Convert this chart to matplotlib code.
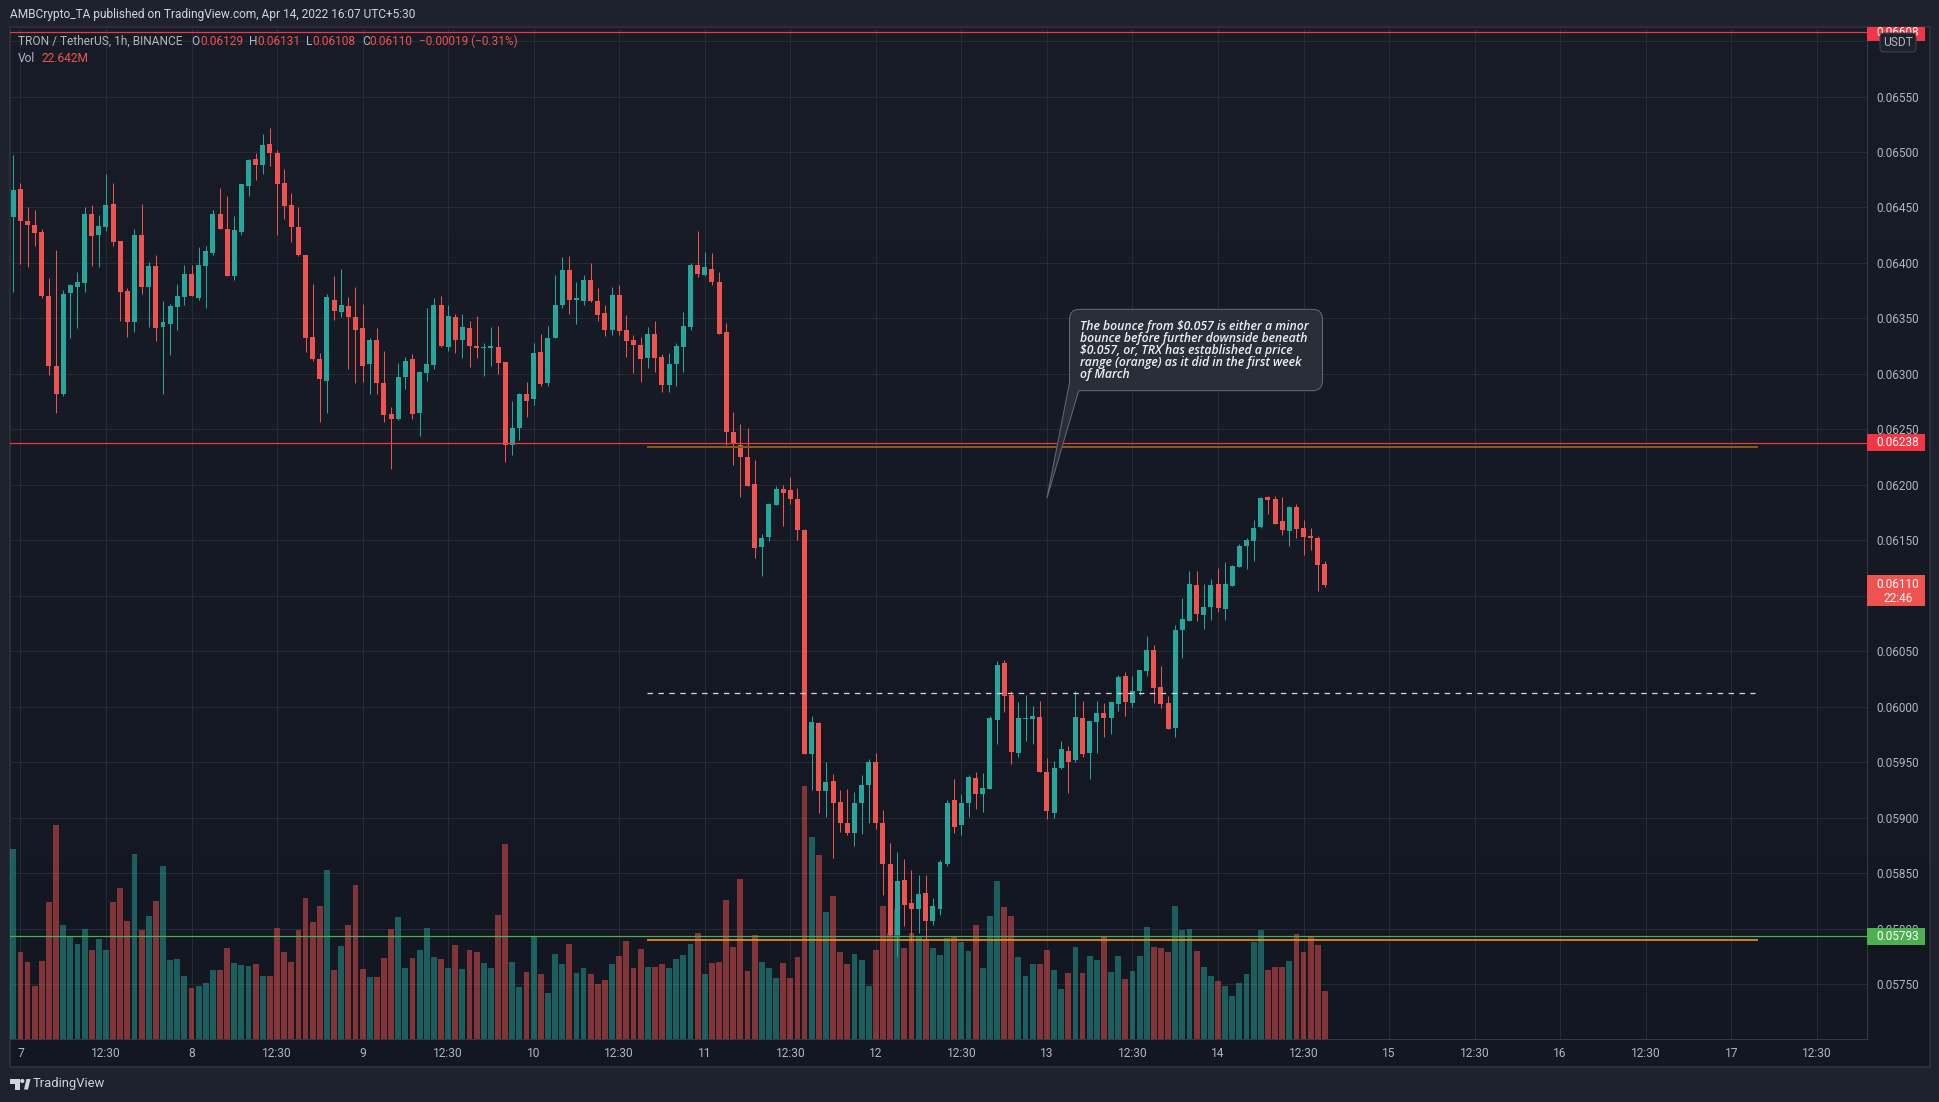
import numpy as np
import matplotlib
matplotlib.use("Agg")
import matplotlib.pyplot as plt
from matplotlib.patches import PathPatch, Rectangle, FancyBboxPatch, Polygon
from matplotlib.path import Path
from matplotlib.transforms import IdentityTransform

# prices in 1e-5 USDT, hourly bars from Apr 7
opens = [
    6441, 6467, 6438, 6434, 6428, 6370, 6307, 6282, 6373, 6378,
    6382, 6444, 6425, 6432, 6453, 6420, 6375, 6347, 6425, 6378,
    6397, 6342, 6345, 6360, 6369, 6390, 6368, 6397, 6409, 6444,
    6431, 6388, 6428, 6469, 6494, 6488, 6507, 6499, 6472, 6452,
    6432, 6407, 6333, 6313, 6294, 6367, 6356, 6361, 6351, 6341,
    6309, 6331, 6292, 6264, 6259, 6297, 6313, 6265, 6301, 6308,
    6362, 6324, 6351, 6331, 6341, 6325, 6323, 6323, 6324, 6311,
    6236, 6251, 6282, 6277, 6320, 6292, 6332, 6362, 6394, 6367,
    6366, 6385, 6366, 6355, 6340, 6371, 6340, 6331, 6326, 6314,
    6336, 6315, 6290, 6309, 6324, 6342, 6398, 6389, 6395, 6383,
    6338, 6248, 6236, 6225, 6201, 6144, 6153, 6182, 6196, 6195,
    6187, 6159, 5957, 5985, 5924, 5933, 5914, 5895, 5886, 5913,
    5929, 5950, 5895, 5858, 5794, 5844, 5823, 5818, 5832, 5807,
    5818, 5858, 5916, 5893, 5913, 5936, 5921, 5926, 5988, 6039,
    6011, 5958, 5989, 5989, 5991, 5941, 5904, 5945, 5960, 5952,
    5990, 5958, 5986, 5994, 5990, 6002, 6028, 6003, 6014, 6032,
    6051, 6018, 6003, 5981, 6069, 6077, 6110, 6083, 6090, 6111,
    6088, 6109, 6126, 6145, 6149, 6162, 6189, 6187, 6167, 6158,
    6180, 6161, 6154, 6152, 6129,
]
closes = [
    6466, 6438, 6434, 6427, 6370, 6307, 6282, 6372, 6380, 6383,
    6444, 6424, 6433, 6452, 6419, 6374, 6347, 6425, 6378, 6397,
    6341, 6347, 6361, 6370, 6390, 6370, 6398, 6411, 6444, 6431,
    6388, 6430, 6471, 6493, 6488, 6506, 6499, 6471, 6451, 6432,
    6407, 6332, 6313, 6295, 6369, 6357, 6362, 6351, 6340, 6307,
    6331, 6292, 6263, 6259, 6297, 6312, 6264, 6302, 6309, 6362,
    6325, 6352, 6331, 6342, 6325, 6323, 6324, 6325, 6310, 6236,
    6251, 6282, 6276, 6319, 6291, 6332, 6362, 6394, 6367, 6368,
    6385, 6366, 6353, 6340, 6371, 6339, 6330, 6326, 6313, 6336,
    6314, 6290, 6309, 6325, 6343, 6398, 6390, 6396, 6383, 6336,
    6248, 6237, 6225, 6199, 6143, 6152, 6183, 6196, 6193, 6187,
    6159, 5957, 5986, 5924, 5932, 5913, 5895, 5886, 5913, 5929,
    5950, 5895, 5858, 5794, 5843, 5821, 5818, 5831, 5807, 5820,
    5860, 5913, 5892, 5913, 5937, 5921, 5927, 5990, 6038, 6010,
    5959, 5990, 5990, 5992, 5941, 5906, 5945, 5962, 5950, 5991,
    5957, 5987, 5994, 5990, 6004, 6027, 6004, 6014, 6033, 6051,
    6017, 6002, 5980, 6069, 6079, 6111, 6084, 6090, 6110, 6089,
    6111, 6127, 6145, 6150, 6161, 6188, 6186, 6165, 6159, 6180,
    6160, 6153, 6152, 6128, 6110,
]
highs = [
    6497, 6472, 6450, 6448, 6431, 6386, 6412, 6376, 6381, 6392,
    6450, 6452, 6443, 6480, 6472, 6420, 6377, 6431, 6453, 6401,
    6407, 6366, 6363, 6381, 6398, 6398, 6414, 6415, 6448, 6468,
    6460, 6442, 6471, 6494, 6499, 6516, 6522, 6502, 6485, 6463,
    6450, 6407, 6381, 6319, 6372, 6388, 6395, 6369, 6378, 6363,
    6332, 6341, 6321, 6270, 6310, 6315, 6318, 6303, 6359, 6368,
    6370, 6362, 6354, 6354, 6348, 6352, 6328, 6342, 6343, 6311,
    6276, 6283, 6293, 6328, 6336, 6343, 6389, 6405, 6406, 6383,
    6389, 6400, 6377, 6362, 6378, 6380, 6353, 6335, 6333, 6342,
    6348, 6318, 6319, 6328, 6356, 6400, 6429, 6410, 6409, 6392,
    6346, 6266, 6255, 6251, 6222, 6156, 6184, 6199, 6200, 6207,
    6197, 6160, 5992, 5986, 5950, 5939, 5925, 5926, 5923, 5938,
    5953, 5958, 5907, 5877, 5869, 5863, 5853, 5848, 5848, 5828,
    5862, 5916, 5935, 5921, 5938, 5941, 5940, 5992, 6041, 6042,
    6014, 6004, 6011, 6001, 6005, 5954, 5951, 5969, 5965, 6014,
    6005, 5987, 6005, 6003, 6004, 6029, 6031, 6028, 6033, 6064,
    6056, 6037, 6010, 6074, 6098, 6122, 6122, 6111, 6115, 6125,
    6130, 6128, 6147, 6152, 6168, 6189, 6190, 6190, 6189, 6181,
    6183, 6168, 6161, 6154, 6131,
]
lows = [
    6374, 6399, 6396, 6415, 6368, 6299, 6265, 6280, 6332, 6341,
    6374, 6397, 6396, 6429, 6415, 6348, 6333, 6338, 6372, 6342,
    6330, 6282, 6317, 6340, 6362, 6370, 6367, 6359, 6407, 6431,
    6388, 6385, 6425, 6460, 6475, 6480, 6487, 6425, 6440, 6419,
    6406, 6320, 6312, 6257, 6265, 6349, 6351, 6304, 6292, 6293,
    6282, 6282, 6257, 6214, 6258, 6286, 6259, 6244, 6294, 6304,
    6324, 6321, 6319, 6314, 6306, 6314, 6298, 6307, 6300, 6221,
    6227, 6240, 6261, 6272, 6289, 6289, 6332, 6359, 6354, 6345,
    6362, 6365, 6348, 6334, 6335, 6335, 6315, 6301, 6293, 6305,
    6302, 6284, 6284, 6289, 6302, 6340, 6387, 6388, 6380, 6336,
    6236, 6218, 6189, 6199, 6134, 6118, 6149, 6182, 6163, 6183,
    6150, 5957, 5925, 5904, 5901, 5864, 5887, 5884, 5874, 5885,
    5895, 5890, 5830, 5793, 5774, 5802, 5789, 5796, 5790, 5803,
    5812, 5856, 5886, 5884, 5901, 5908, 5905, 5926, 5966, 5995,
    5948, 5955, 5969, 5966, 5941, 5899, 5900, 5944, 5922, 5950,
    5955, 5935, 5958, 5973, 5975, 5996, 5992, 6000, 6011, 6028,
    6003, 5999, 5980, 5973, 6044, 6077, 6077, 6070, 6078, 6085,
    6078, 6109, 6126, 6124, 6131, 6161, 6174, 6165, 6155, 6145,
    6152, 6137, 6141, 6104, 6108,
]
# volume in millions
volumes = [
    89.5, 41.0, 36.3, 25.0, 36.7, 64.5, 100.8, 53.7, 48.0, 44.7,
    51.8, 41.9, 47.1, 41.9, 64.5, 71.1, 55.6, 87.1, 51.3, 57.9,
    65.0, 81.5, 37.2, 37.7, 29.7, 24.0, 25.0, 26.4, 32.5, 32.5,
    42.9, 35.8, 34.9, 34.4, 35.3, 29.7, 29.7, 52.3, 41.0, 36.3,
    51.3, 66.4, 55.1, 62.6, 79.6, 32.5, 43.8, 53.7, 72.5, 33.0,
    29.2, 29.2, 38.2, 51.8, 57.5, 33.4, 38.2, 41.9, 52.3, 38.6,
    37.7, 33.4, 44.3, 33.0, 41.9, 41.0, 35.8, 33.4, 58.4, 91.8,
    36.3, 24.5, 31.6, 48.0, 30.6, 21.7, 40.0, 35.3, 44.7, 31.1,
    33.4, 30.6, 25.9, 27.8, 35.3, 39.1, 46.2, 33.4, 42.4, 33.9,
    33.9, 35.3, 33.4, 37.7, 39.6, 44.7, 49.9, 30.6, 35.8, 36.3,
    65.5, 43.3, 75.4, 32.0, 49.0, 36.3, 33.4, 28.7, 35.8, 28.7,
    38.6, 119.2, 95.1, 86.7, 59.8, 67.4, 41.0, 35.3, 40.0, 37.2,
    25.0, 41.9, 62.6, 49.9, 61.2, 42.9, 49.9, 48.5, 46.6, 42.9,
    39.6, 47.6, 48.5, 45.7, 41.4, 53.7, 33.4, 57.9, 74.4, 62.2,
    57.9, 38.6, 29.7, 35.3, 35.3, 41.9, 32.5, 23.6, 31.1, 43.3,
    31.1, 39.1, 37.2, 48.5, 31.6, 39.1, 28.3, 32.0, 39.1, 52.8,
    43.3, 42.9, 41.0, 62.6, 51.3, 51.8, 41.4, 33.9, 29.7, 27.3,
    25.0, 20.3, 26.4, 30.6, 45.7, 51.3, 32.5, 33.9, 33.9, 36.7,
    49.5, 41.0, 48.5, 44.3, 22.642,
]

time_labels = ["7", "12:30", "8", "12:30", "9", "12:30", "10", "12:30", "11", "12:30", "12",
               "12:30", "13", "12:30", "14", "12:30", "15", "12:30", "16", "12:30", "17", "12:30"]
price_ticks = [0.0575, 0.058, 0.0585, 0.059, 0.0595, 0.06, 0.0605, 0.061, 0.0615, 0.062, 0.0625,
               0.063, 0.0635, 0.064, 0.0645, 0.065, 0.0655, 0.066]
# these two sit fully under a price tag in the chart
hidden_ticks = [0.061, 0.066]

res_top = 0.06608
res_mid = 0.06238
sup_low = 0.05793
range_high = 0.06234
range_mid = 0.06012
range_low = 0.05790

note = ("The bounce from $0.057 is either a minor\n"
        "bounce before further downside beneath\n"
        "$0.057, or, TRX has established a price\n"
        "range (orange) as it did in the first week\n"
        "of March")

UP = "#26a69a"
DOWN = "#ef5350"
RED_LINE = "#f23645"
GREEN_LINE = "#4caf50"
ORANGE = "#ff9800"
GRID = "#262a35"
FRAME = "#1e222d"
TEXT = "#b2b5be"
UI_FONT = ["Roboto", "DejaVu Sans"]

W, H = 1940, 1102
LEFT, RIGHT, TOP, BOTTOM = 10, 1866.7, 27, 1039.3

plt.rcParams["font.family"] = UI_FONT

fig = plt.figure(figsize=(W / 100, H / 100), dpi=100, facecolor=FRAME)


def px(v):
    # pixels to points, dpi is 100
    return v * 0.72


# gradient pane behind everything
bg = fig.add_axes([LEFT / W, 1 - 1066.7 / H, (1930 - LEFT) / W, (1066.7 - TOP) / H], zorder=-1)
top_col = np.array([24, 28, 39]) / 255
bot_col = np.array([19, 23, 34]) / 255
grad = np.linspace(0, 1, 256)[:, None, None] * (bot_col - top_col)[None, None, :] + top_col
bg.imshow(grad, aspect="auto")
bg.set_xticks([])
bg.set_yticks([])
for s in bg.spines.values():
    s.set_color("#2a2e39")
    s.set_linewidth(px(2))

ax = fig.add_axes([LEFT / W, 1 - BOTTOM / H, (RIGHT - LEFT) / W, (BOTTOM - TOP) / H])
ax.patch.set_visible(False)
ymin, ymax = 0.057002, 0.066127
ax.set_xlim(-0.463, 260.0)
ax.set_ylim(ymin, ymax)

x = np.arange(len(opens))
o = np.array(opens) * 1e-5
c = np.array(closes) * 1e-5
h = np.array(highs) * 1e-5
l = np.array(lows) * 1e-5
v = np.array(volumes)
colors = [UP if b >= a else DOWN for a, b in zip(o, c)]

# volume is an overlay scale sharing the bottom of the pane
vol_scale = (ymax - ymin) / 476.6
ax.bar(x, v * vol_scale, bottom=ymin, width=0.82, color=colors, alpha=0.5, linewidth=0, zorder=2)

ax.vlines(x, l, h, colors=colors, linewidth=px(1.0), zorder=3)
ax.bar(x, np.maximum(np.abs(c - o), 1.2e-5), bottom=np.minimum(o, c), width=0.7, color=colors,
       linewidth=0, zorder=3)

ax.axhline(res_top, color=RED_LINE, linewidth=px(1.2), zorder=4)
ax.axhline(res_mid, color=RED_LINE, linewidth=px(1.2), zorder=4)
ax.axhline(sup_low, color=GREEN_LINE, linewidth=px(1.2), zorder=4)
ax.hlines(range_high, 88.9, 244.8, color="#855a12", linewidth=px(2), zorder=4)
ax.hlines(range_low, 88.9, 244.8, color=ORANGE, linewidth=px(1.6), zorder=5)
ax.hlines(range_mid, 88.9, 244.3, color="#d1d4dc", linewidth=px(1.3), linestyles=(0, (4.2, 4.2)), zorder=4)

ax.set_xticks(np.arange(1, 254, 12))
ax.set_xticklabels(time_labels)
ax.set_yticks(price_ticks)
ax.set_yticklabels(["" if t in hidden_ticks else f"{t:.5f}" for t in price_ticks])
ax.yaxis.tick_right()
ax.tick_params(axis="x", length=0, pad=px(8), labelsize=px(12), labelcolor=TEXT)
ax.tick_params(axis="y", length=0, pad=px(9.3), labelsize=px(11.8), labelcolor=TEXT)
ax.grid(color=GRID, linewidth=px(1))
ax.set_axisbelow(True)
for name, s in ax.spines.items():
    s.set_color("#363a45")
    s.set_linewidth(px(1))
    s.set_visible(name in ("right", "bottom"))


def flip(py):
    return H - py


def fig_text(x0, y0, s, color=TEXT, size=12, **kw):
    fig.text(x0 / W, flip(y0) / H, s, color=color, fontsize=px(size), va="center", **kw)


def price_y(price):
    # pixel row of a price, taken from the axes scale
    return flip(ax.transData.transform((0, price))[1])


def price_tag(price, label, color, y0=None, y1=None):
    y = price_y(price)
    y0 = y - 8.5 if y0 is None else y0
    y1 = y + 8.5 if y1 is None else y1
    r = Rectangle((1866.7, flip(y1)), 58.3, y1 - y0, facecolor=color, edgecolor="none",
                  transform=IdentityTransform(), zorder=6)
    fig.add_artist(r)
    t = fig.text(1876 / W, flip(y) / H, label, color="white", fontsize=px(11.8), va="center", zorder=7)
    t.set_clip_path(r)
    return y


price_tag(res_top, "0.06608", RED_LINE, y0=27, y1=41)
price_tag(res_mid, "0.06238", RED_LINE)
price_tag(sup_low, "0.05793", GREEN_LINE)

# last price tag has the countdown under the price
fig.add_artist(Rectangle((1866.7, flip(606)), 58.3, 31, facecolor=DOWN, edgecolor="none",
                         transform=IdentityTransform(), zorder=6))
fig.text(1876 / W, flip(585) / H, "0.06110", color="white", fontsize=px(11.8), va="center", zorder=7)
fig.text(1883 / W, flip(599) / H, "22:46", color="white", fontsize=px(11.8), va="center", zorder=7)

# USDT currency badge
fig.add_artist(FancyBboxPatch((1882, flip(50)), 32, 15, boxstyle="round,pad=2,rounding_size=4",
                              facecolor=FRAME, edgecolor="#434651", linewidth=px(1),
                              transform=IdentityTransform(), zorder=8))
fig.text(1898 / W, flip(42.5) / H, "USDT", color=TEXT, fontsize=px(12), ha="center", va="center", zorder=9)

# top strip and legend
fig_text(10, 14.7, "AMBCrypto_TA published on TradingView.com, Apr 14, 2022 16:07 UTC+5:30", color="#d1d4dc", size=11.85)
fig_text(18, 41.7, "TRON / TetherUS, 1h, BINANCE", size=11.9)
for lab, lx, val, vx in [("O", 191.5, "0.06129", 200), ("H", 249, "0.06131", 257),
                         ("L", 306, "0.06108", 312.7), ("C", 362, "0.06110", 369)]:
    fig_text(lx, 41.7, lab, size=11.9)
    fig_text(vx, 41.7, val, color=DOWN, size=11.9)
fig_text(418.8, 41.7, "\u22120.00019 (\u22120.31%)", color=DOWN, size=11.7)
fig_text(18, 59, "Vol", size=12)
fig_text(41.7, 59, "22.642M", color=DOWN, size=12)

# callout with tail
bx0, bx1, by0, by1 = 1069.5, 1322.5, 309.3, 390.7
rad = 10
tip_x, tip_y = ax.transData.transform((145, 0.06188))
verts = [
    (bx0 + rad, flip(by0)), (bx1 - rad, flip(by0)), (bx1, flip(by0)), (bx1, flip(by0 + rad)),
    (bx1, flip(by1 - rad)), (bx1, flip(by1)), (bx1 - rad, flip(by1)),
    (1078.7, flip(by1)), (tip_x, tip_y), (bx0, flip(382.7)),
    (bx0, flip(by0 + rad)), (bx0, flip(by0)), (bx0 + rad, flip(by0)), (bx0 + rad, flip(by0)),
]
codes = [
    Path.MOVETO, Path.LINETO, Path.CURVE3, Path.CURVE3,
    Path.LINETO, Path.CURVE3, Path.CURVE3,
    Path.LINETO, Path.LINETO, Path.LINETO,
    Path.LINETO, Path.CURVE3, Path.CURVE3, Path.CLOSEPOLY,
]
fig.add_artist(PathPatch(Path(verts, codes), facecolor="#2a2e39", edgecolor="#666973", linewidth=px(1),
                         transform=IdentityTransform(), zorder=4))
fig.text(1080.2 / W, flip(320) / H, note, color="#eceef2", fontsize=px(12.2), style="italic", weight="semibold",
         family=["Open Sans", "DejaVu Sans"], va="top", linespacing=0.89, zorder=5)

# TradingView mark
for pts in [[(10, 1079), (19.5, 1079), (19.5, 1089.5), (14.5, 1089.5), (14.5, 1083.5), (10, 1083.5)],
            [(24, 1089.5), (26.5, 1079), (30.5, 1079), (28, 1089.5)]]:
    fig.add_artist(Polygon([(a, flip(b)) for a, b in pts], closed=True, facecolor="#d1d4dc",
                           edgecolor="none", transform=IdentityTransform()))
fig.add_artist(plt.Circle((22.3, flip(1081)), 2.1, facecolor="#d1d4dc", edgecolor="none",
                          transform=IdentityTransform()))
fig_text(33, 1084, "TradingView", color="#d1d4dc", size=13)

fig.savefig("out.png", dpi=100, facecolor=FRAME)
